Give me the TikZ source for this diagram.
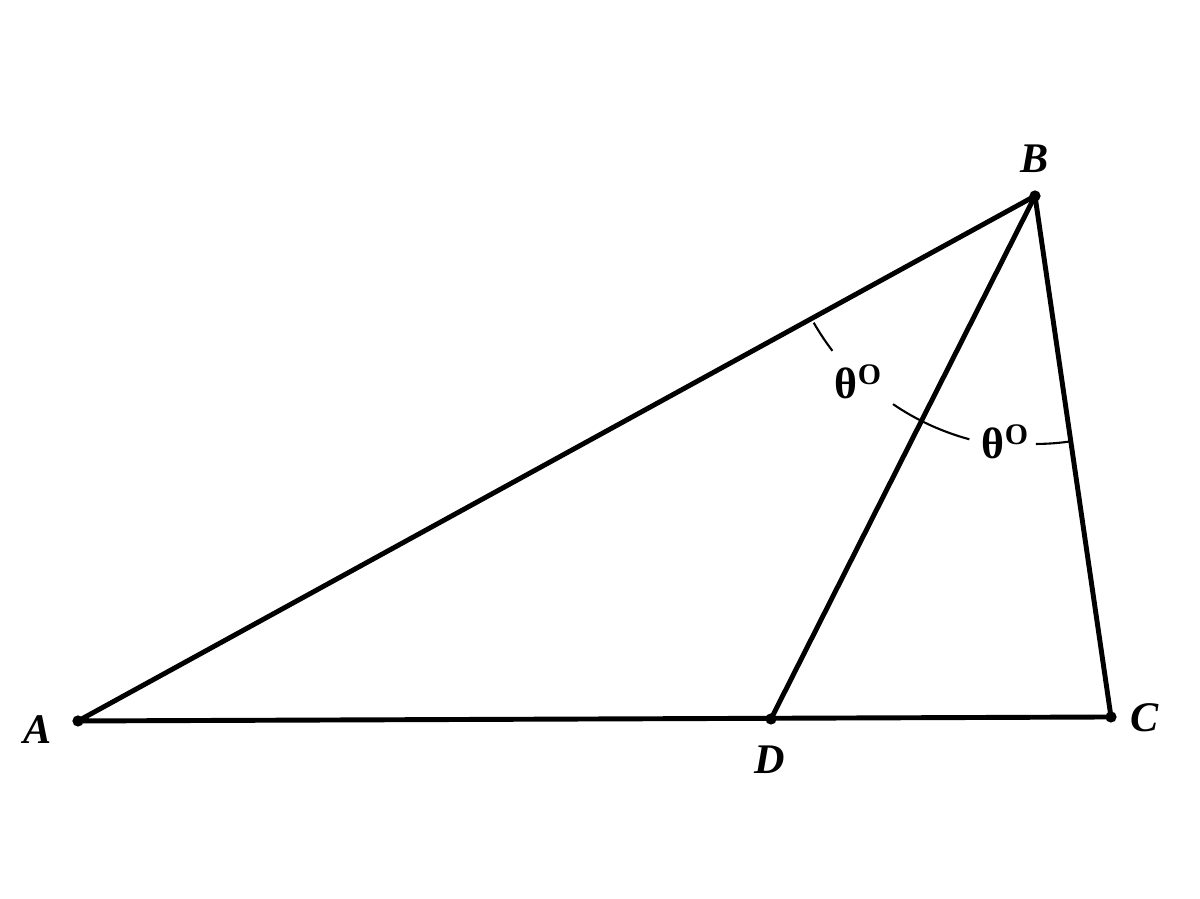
\documentclass[tikz,border=0pt]{standalone}
\usepackage{fontspec}
\setmainfont{Liberation Serif}
\usepackage{tikz}

\tikzset{
    side/.style={line width=1.4pt, line cap=round, line join=round},
    anglearc/.style={line width=0.6pt},
    vertex/.style={circle, fill, inner sep=0pt, minimum size=3.2pt},
    ptlabel/.style={font=\fontsize{12}{14}\selectfont\bfseries\itshape, inner sep=0pt},
    anglabel/.style={font=\fontsize{12.5}{14}\selectfont\bfseries, inner sep=0pt}
}

\begin{document}
\begin{tikzpicture}
    \useasboundingbox (0,0) rectangle (12,8.99);
    % vertices
    \coordinate (A) at (0.78, 1.78);
    \coordinate (B) at (10.35, 7.03);
    \coordinate (C) at (11.11, 1.82);
    \coordinate (D) at (7.71, 1.80);
    \foreach \p in {A, B, C, D} {
        \node[vertex] (v\p) at (\p) {};
    }
    % sides of the triangle and the bisector
    \draw[side] (A) -- (B) -- (C) -- cycle;
    \draw[side] (B) -- (D);
    % angle marks
    \draw[anglearc] (B) ++(209.8:2.55) arc[start angle=209.8, end angle=217.4, radius=2.55];
    \draw[anglearc] (B) ++(235.7:2.52) arc[start angle=235.7, end angle=254.9, radius=2.52];
    \draw[anglearc] (B) ++(270.2:2.48) arc[start angle=270.2, end angle=278.3, radius=2.48];
    % labels
    \node[ptlabel] (lA) at (0.38, 1.69) {A};
    \node[ptlabel] (lB) at (10.35, 7.40) {B};
    \node[ptlabel] (lC) at (11.45, 1.81) {C};
    \node[ptlabel] (lD) at (7.70, 1.39) {D};
    \node[anglabel] (t1) at (8.58, 5.17) {θ\raisebox{0.7ex}{\fontsize{8.5}{9}\selectfont O}};
    \node[anglabel] (t2) at (10.05, 4.57) {θ\raisebox{0.7ex}{\fontsize{8.5}{9}\selectfont O}};
\end{tikzpicture}
\end{document}
